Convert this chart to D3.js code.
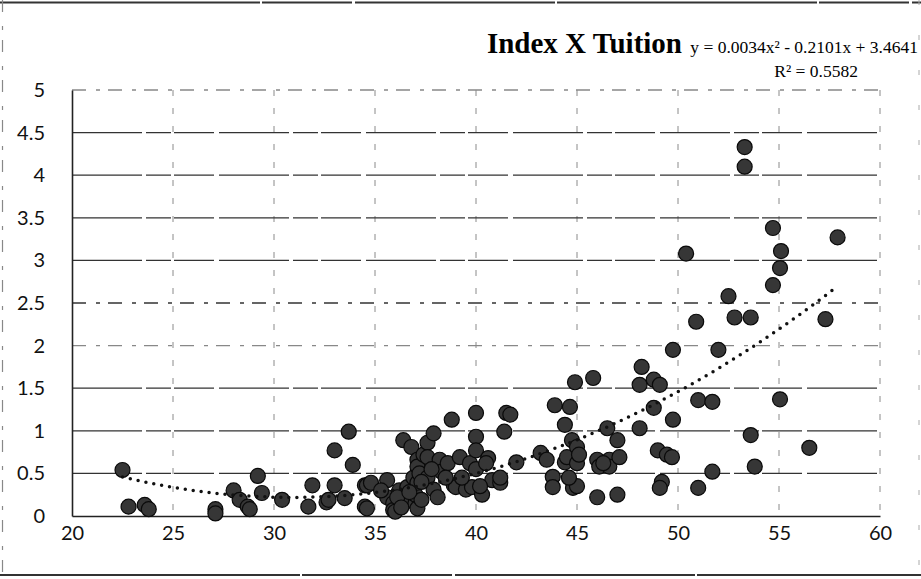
<!DOCTYPE html>
<head>
  <meta charset="utf-8">
  <style>
  body { margin: 0; background: #fff; }
  .tick text { font-family: Lato, "Open Sans", sans-serif; font-size: 20px; fill: #111; }
  .dots circle { fill: #363636; stroke: #0a0a0a; stroke-width: 1.2px; }
  </style>
  <script src="https://d3js.org/d3.v7.min.js"></script>
</head>
<body>
  <svg width="921" height="579"></svg>
  <script>

  // index values (x) and tuition (y)
  var indexVals = [22.5, 22.8, 23.6, 23.8, 27.1, 27.1, 28.0, 28.3, 28.7, 28.8, 29.2, 29.4, 30.4, 31.7, 31.9,
    32.6, 32.7, 33.0, 33.0, 33.5, 33.7, 33.9, 34.5, 34.5, 34.6, 34.6, 34.8, 35.6, 35.6, 35.9, 35.9, 36.0,
    36.2, 36.4, 36.4, 36.6, 36.8, 36.9, 37.0, 37.0, 37.1, 37.1, 37.1, 37.1, 37.2, 37.3, 37.4, 37.6, 37.6,
    37.6, 37.9, 37.9, 38.1, 38.2, 38.3, 38.6, 38.8, 38.9, 39.0, 39.2, 39.5, 39.7, 39.8, 40.0, 40.0, 40.0,
    40.0, 40.3, 40.6, 40.8, 41.2, 41.2, 41.4, 41.5, 41.7, 42.0, 43.2, 43.5, 43.8, 43.8, 43.9, 44.4, 44.4,
    44.5, 44.65, 44.75, 44.8, 44.9, 45.0, 45.0, 45.0, 45.8, 46.0, 46.0, 46.1, 46.5, 46.6, 46.6, 47.0, 47.0,
    47.1, 48.1, 48.1, 48.2, 48.8, 48.8, 49.0, 49.1, 49.2, 49.1, 49.45, 49.7, 49.75, 49.75, 50.4, 50.9, 51.0,
    51.0, 51.7, 51.7, 52.0, 52.5, 52.8, 53.3, 53.3, 53.6, 53.6, 53.8, 54.7, 54.7, 55.05, 55.05, 55.1, 56.5,
    57.3, 57.9,
    35.3, 36.1, 36.3, 36.7, 37.3, 37.8, 38.5, 39.3, 40.2, 40.5, 44.6, 45.1, 46.3];
  var tuitionVals = [0.54, 0.11, 0.13, 0.08, 0.08, 0.03, 0.30, 0.19, 0.11, 0.08, 0.47, 0.27, 0.19, 0.11, 0.36,
    0.16, 0.19, 0.36, 0.77, 0.21, 0.99, 0.60, 0.36, 0.11, 0.36, 0.09, 0.39, 0.42, 0.22, 0.15, 0.07, 0.05,
    0.30, 0.89, 0.18, 0.34, 0.81, 0.45, 0.15, 0.25, 0.66, 0.58, 0.39, 0.09, 0.50, 0.19, 0.72, 0.86, 0.69,
    0.45, 0.97, 0.31, 0.22, 0.66, 0.52, 0.62, 1.13, 0.36, 0.34, 0.69, 0.31, 0.62, 0.34, 1.21, 0.93, 0.77,
    0.55, 0.25, 0.68, 0.42, 0.39, 0.45, 0.99, 1.21, 1.19, 0.63, 0.74, 0.66, 0.46, 0.34, 1.30, 1.07, 0.63,
    0.69, 1.28, 0.89, 0.33, 1.57, 0.81, 0.62, 0.35, 1.62, 0.66, 0.22, 0.58, 1.03, 0.66, 0.58, 0.89, 0.25,
    0.69, 1.03, 1.54, 1.75, 1.60, 1.27, 0.77, 1.54, 0.40, 0.33, 0.72, 0.69, 1.13, 1.95, 3.08, 2.28, 1.36,
    0.33, 1.34, 0.52, 1.95, 2.58, 2.33, 4.33, 4.10, 2.33, 0.95, 0.58, 3.38, 2.71, 2.91, 1.37, 3.11, 0.80,
    2.31, 3.27,
    0.30, 0.22, 0.10, 0.28, 0.40, 0.55, 0.45, 0.45, 0.35, 0.62, 0.45, 0.72, 0.62];

  var xTicks = [20, 25, 30, 35, 40, 45, 50, 55, 60];
  var yTicks = [0, 0.5, 1, 1.5, 2, 2.5, 3, 3.5, 4, 4.5, 5];

  // polynomial trendline y = a x^2 + b x + c, as printed on the chart
  var trendCoef = [0.0034, -0.2101, 3.4641];
  var trendRange = [22.5, 57.7];

  var svg = d3.select("svg"),
      width = +svg.attr("width"),
      height = +svg.attr("height");

  var x = d3.scaleLinear().domain([20, 60]).range([72, 880]);
  var y = d3.scaleLinear().domain([0, 5]).range([516, 90]);

  // outer frame of the scanned chart
  var frame = svg.append("g").attr("fill", "none");
  frame.append("line")
    .attr("x1", 0).attr("x2", width).attr("y1", 2.5).attr("y2", 2.5)
    .attr("stroke", "#333").attr("stroke-width", 2)
    .attr("stroke-dasharray", "260 2 90 3 200 2");
  frame.append("line")
    .attr("x1", 0).attr("x2", width).attr("y1", 575).attr("y2", 575)
    .attr("stroke", "#333").attr("stroke-width", 2)
    .attr("stroke-dasharray", "300 2 150 3 240 2");
  frame.append("line")
    .attr("x1", 2.5).attr("x2", 2.5).attr("y1", 0).attr("y2", height)
    .attr("stroke", "#888").attr("stroke-width", 1.2)
    .attr("stroke-dasharray", "12 14 4 10");
  frame.append("line")
    .attr("x1", 919).attr("x2", 919).attr("y1", 0).attr("y2", height)
    .attr("stroke", "#aaa").attr("stroke-width", 1)
    .attr("stroke-dasharray", "5 30");

  // gridlines
  svg.append("g")
    .selectAll("line")
    .data(xTicks.slice(1))
    .enter().append("line")
    .attr("x1", function(d) { return x(d); })
    .attr("x2", function(d) { return x(d); })
    .attr("y1", y(5)).attr("y2", y(0))
    .attr("stroke", "#8a8a8a")
    .attr("stroke-width", 1)
    .attr("stroke-dasharray", "6 12");

  svg.append("g")
    .selectAll("line")
    .data(yTicks.slice(1))
    .enter().append("line")
    .attr("x1", x(20)).attr("x2", x(60))
    .attr("y1", function(d) { return y(d); })
    .attr("y2", function(d) { return y(d); })
    .attr("stroke", function(d) { return d == 5 || d == 2 ? "#888" : "#333"; })
    .attr("stroke-width", 1.3)
    .attr("stroke-dasharray", function(d) {
      return d == 5 || d == 2 || d == 2.5 ? "14 10 4 8" : "70 4 25 3 40 5";
    });

  // axes
  svg.append("g")
    .attr("transform", "translate(0," + y(0) + ")")
    .call(d3.axisBottom(x).tickValues(xTicks).tickSize(0).tickPadding(10))
    .call(function(g) { g.select(".domain").attr("stroke", "#222").attr("stroke-width", 1.6); });

  svg.append("g")
    .attr("transform", "translate(" + x(20) + ",0)")
    .call(d3.axisLeft(y).tickValues(yTicks).tickSize(0).tickPadding(27).tickFormat(d3.format("")))
    .call(function(g) { g.select(".domain").attr("stroke", "#222").attr("stroke-width", 1.6); });

  // points
  var pts = indexVals.map(function(v, i) { return [v, tuitionVals[i]]; });

  svg.append("g")
    .attr("class", "dots")
    .selectAll("circle")
    .data(pts)
    .enter().append("circle")
    .attr("cx", function(d) { return x(d[0]); })
    .attr("cy", function(d) { return y(d[1]); })
    .attr("r", 7.5);

  // dotted trendline
  var trendX = d3.range(trendRange[0], trendRange[1] + 0.01, 0.1);
  var line = d3.line()
    .x(function(d) { return x(d); })
    .y(function(d) { return y(trendCoef[0] * d * d + trendCoef[1] * d + trendCoef[2]); });

  svg.append("path")
    .datum(trendX)
    .attr("d", line)
    .attr("fill", "none")
    .attr("stroke", "#111")
    .attr("stroke-width", 3.5)
    .attr("stroke-linecap", "round")
    .attr("stroke-dasharray", "0 8");

  // title and equation
  var serif = "'Liberation Serif', 'Times New Roman', serif";

  svg.append("text")
    .attr("x", 682).attr("y", 53)
    .attr("text-anchor", "end")
    .style("font-family", serif)
    .style("font-weight", "bold")
    .style("font-size", "29px")
    .text("Index X Tuition");

  svg.append("text")
    .attr("x", 918).attr("y", 53)
    .attr("text-anchor", "end")
    .style("font-family", serif)
    .style("font-size", "17.5px")
    .text("y = 0.0034x\u00b2 - 0.2101x + 3.4641");

  svg.append("text")
    .attr("x", 858).attr("y", 77)
    .attr("text-anchor", "end")
    .style("font-family", serif)
    .style("font-size", "17.5px")
    .text("R\u00b2 = 0.5582");

  </script>
</body>
